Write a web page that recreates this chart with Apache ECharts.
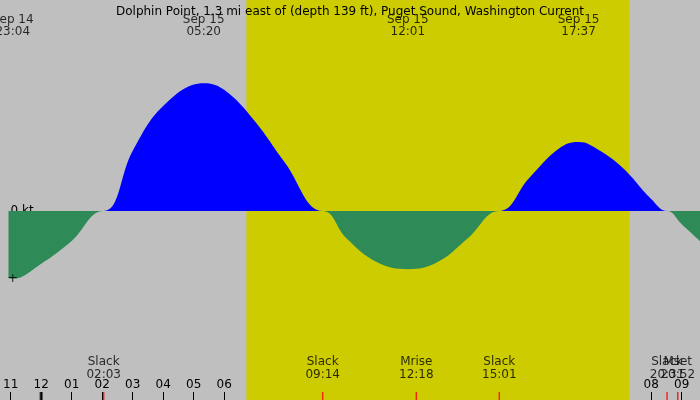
<!DOCTYPE html><html><head><meta charset="utf-8">
<script src="https://cdn.jsdelivr.net/npm/echarts@6/dist/echarts.min.js"></script>
<style>html,body{margin:0;padding:0;background:#bfbfbf}#c{width:700px;height:400px}</style></head><body><div id="c"></div>
<script>
// hours relative to midnight Sep 15
const curveHours = [-1.07,-0.93,0,1,2.05,3,4,5.33,6,7,8,9.23,10,11,12.02,13,14,15.02,16,17,17.62,18,19,20,20.52,21,21.6];
const curveKt    = [-1.12,-1.13,-0.88,-0.5,0,1.0,1.75,2.13,2.02,1.5,0.8,0,-0.45,-0.85,-0.97,-0.85,-0.45,0,0.55,1.05,1.15,1.1,0.75,0.2,0,-0.22,-0.5];
const daylight = [6.73, 19.29];
const topLabels = [[-0.93,'Sep 14\n23:04'],[5.33,'Sep 15\n05:20'],[12.02,'Sep 15\n12:01'],[17.62,'Sep 15\n17:37']];
const eventLabels = [[2.05,'Slack\n02:03'],[9.23,'Slack\n09:14'],[12.3,'Mrise\n12:18'],[15.02,'Slack\n15:01'],[20.52,'Slack\n20:31'],[20.87,'Mset\n20:52']];
const redMarks = [2.05,9.23,12.3,15.02,20.52,20.87];
const hourTicks = [-1,0,1,2,3,4,5,6,7,8,9,10,11,12,13,14,15,16,17,18,19,20,21];
const title = 'Dolphin Point, 1.3 mi east of (depth 139 ft), Puget Sound, Washington Current';

const YMAX = 211/60, YMIN = -189/60;
const chart = echarts.init(document.getElementById('c'));
const font = 'DejaVu Sans';
const pos = curveHours.map((h,i)=>[h,Math.max(curveKt[i],0)]);
const neg = curveHours.map((h,i)=>[h,Math.min(curveKt[i],0)]);
chart.setOption({
  backgroundColor:'#bfbfbf',
  animation:false,
  title:{text:title,left:'center',top:1,textStyle:{fontSize:12,fontWeight:'normal',color:'#000',fontFamily:font}},
  grid:{left:0,right:0,top:0,bottom:0},
  xAxis:{type:'value',min:-1.07,max:21.6,splitLine:{show:false},axisLine:{show:false,onZero:false},
    axisTick:{show:true,inside:true,length:8,customValues:hourTicks,lineStyle:{color:'#000'}},
    axisLabel:{show:true,inside:true,margin:9,customValues:hourTicks,fontSize:12,fontFamily:font,color:'#000',
      formatter:v=>{let h=((Math.round(v)%12)+12)%12; if(h===0)h=12; return String(h).padStart(2,'0');}}},
  yAxis:{type:'value',min:YMIN,max:YMAX,splitLine:{show:false},axisLine:{show:false},axisTick:{show:false},
    axisLabel:{inside:true,customValues:[0],margin:2,fontSize:12,fontFamily:font,color:'#000',formatter:()=> '0 kt'}},
  series:[
    {type:'line',data:[],silent:true,
     markArea:{silent:true,itemStyle:{color:'#cccc00'},data:[[{xAxis:daylight[0]},{xAxis:daylight[1]}]]},z:1},
    {type:'line',smooth:0.4,symbol:'none',data:pos,lineStyle:{width:0},areaStyle:{opacity:1,color:'#0000ff',origin:0},z:3},
    {type:'line',smooth:0.4,symbol:'none',data:neg,lineStyle:{width:0},areaStyle:{opacity:1,color:'#2e8b57',origin:0},z:3},
    {type:'scatter',symbolSize:0,silent:true,data:topLabels.map(d=>[d[0],YMAX-0.43,d[1]]),
     label:{show:true,position:'inside',formatter:p=>p.data[2],fontSize:12,lineHeight:12,fontFamily:font,color:'#000'},z:5},
    {type:'scatter',symbolSize:0,silent:true,data:eventLabels.map(d=>[d[0],-2.62,d[1]]),
     label:{show:true,position:'inside',formatter:p=>p.data[2],fontSize:12,lineHeight:13,fontFamily:font,color:'#000'},z:5},
    {type:'scatter',symbol:'rect',symbolSize:[1.5,8],silent:true,itemStyle:{color:'#ff0000'},
     data:redMarks.map(h=>[h,YMIN+4/60]),z:6},
    {type:'scatter',symbol:'rect',symbolSize:[3,8],silent:true,itemStyle:{color:'#000'},data:[[0,YMIN+4/60]],z:6},
    {type:'scatter',symbolSize:0,silent:true,data:[[-0.93,-1.13]],
     label:{show:true,position:'inside',formatter:'+',fontSize:13,fontFamily:font,color:'#000'},z:6}
  ]
});
</script></body></html>
